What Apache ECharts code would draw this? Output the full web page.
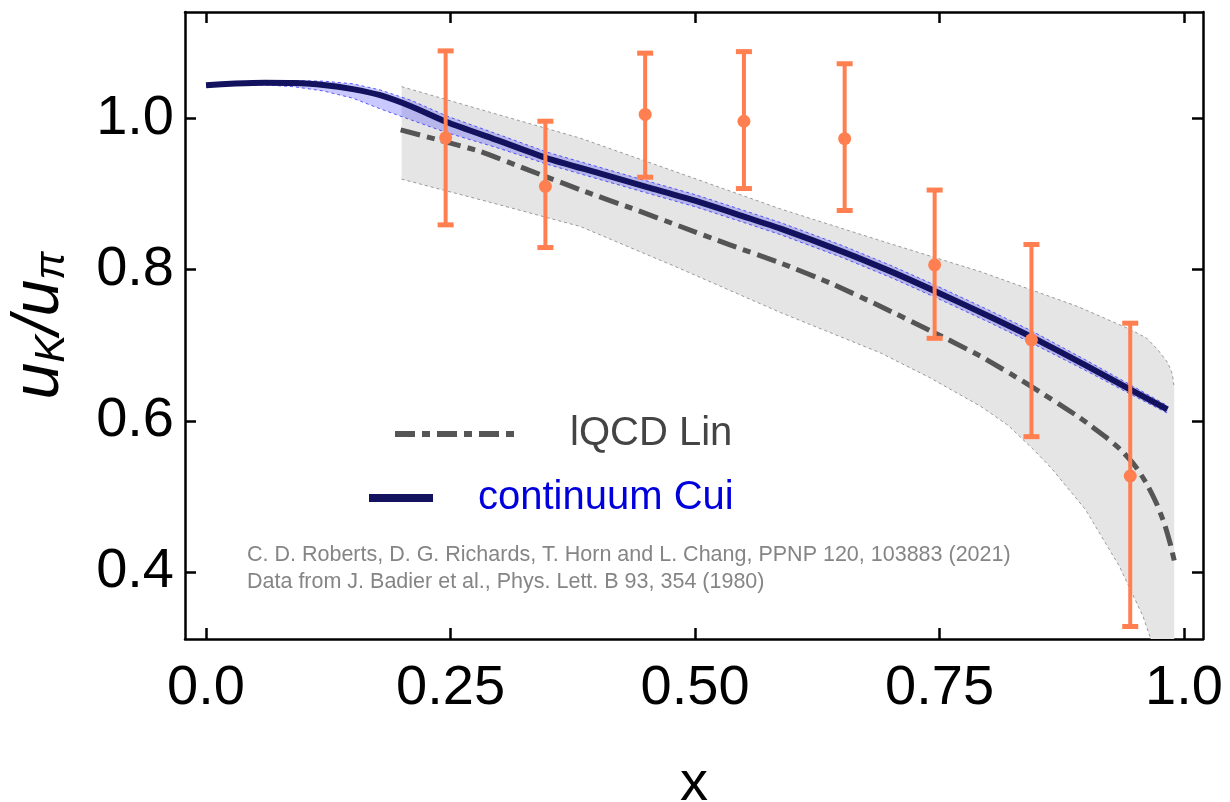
<!DOCTYPE html>
<html>
<head>
<meta charset="utf-8">
<script src="https://cdn.jsdelivr.net/npm/echarts@6/dist/echarts.min.js"></script>
<style>
html,body{margin:0;padding:0;background:#fff;}
#chart{width:1230px;height:802px;}
</style>
</head>
<body>
<div id="chart"></div>
<script>
// ---- Data ----
const xTickValues = [0, 0.25, 0.5, 0.75, 1.0];
const xTickLabels = ['0.0', '0.25', '0.50', '0.75', '1.0'];
const yTickValues = [0.4, 0.6, 0.8, 1.0];
const yTickLabels = ['0.4', '0.6', '0.8', '1.0'];

// continuum Cui: central curve and band
const cuiX     = [0, 0.03, 0.06, 0.09, 0.12, 0.15, 0.178, 0.21, 0.246, 0.30, 0.349, 0.40, 0.451, 0.50, 0.55, 0.5875, 0.65, 0.70, 0.746, 0.80, 0.845, 0.90, 0.95, 0.983];
const cuiY     = [1.0436, 1.0458, 1.0470, 1.0466, 1.0440, 1.0385, 1.0304, 1.0155, 0.995, 0.970, 0.947, 0.928, 0.909, 0.891, 0.870, 0.854, 0.824, 0.7975, 0.771, 0.7386, 0.7103, 0.673, 0.638, 0.615];
const cuiUpper = [1.0446, 1.0468, 1.0490, 1.0496, 1.0490, 1.0455, 1.0374, 1.0235, 1.003, 0.978, 0.955, 0.936, 0.917, 0.899, 0.878, 0.862, 0.832, 0.8055, 0.779, 0.7466, 0.7183, 0.680, 0.644, 0.620];
const cuiLower = [1.0426, 1.0438, 1.0440, 1.0416, 1.0360, 1.0265, 1.0124, 0.9975, 0.981, 0.960, 0.939, 0.920, 0.901, 0.883, 0.862, 0.846, 0.816, 0.7895, 0.763, 0.7306, 0.7023, 0.666, 0.632, 0.610];

// lQCD Lin: central curve
const linX = [0.199, 0.24, 0.2805, 0.33, 0.3828, 0.435, 0.4852, 0.535, 0.5875, 0.64, 0.6899, 0.74, 0.7922, 0.84, 0.8915, 0.905, 0.92, 0.935, 0.95, 0.962, 0.972, 0.980, 0.986, 0.990];
const linY = [0.9845, 0.9705, 0.9559, 0.9314, 0.9053, 0.881, 0.8568, 0.8328, 0.8085, 0.781, 0.7511, 0.7195, 0.6851, 0.6485, 0.6058, 0.5930, 0.5785, 0.562, 0.5403, 0.5163, 0.4903, 0.4635, 0.4371, 0.4151];
// lQCD Lin: band edges
const linUpperX = [0.200, 0.290, 0.3828, 0.485, 0.5875, 0.6899, 0.7922, 0.8915, 0.9458, 0.9620, 0.9731, 0.9833, 0.9880, 0.990];
const linUpperY = [1.0417, 1.008, 0.9736, 0.927, 0.880, 0.838, 0.797, 0.751, 0.7203, 0.709, 0.694, 0.677, 0.662, 0.643];
const linLowerX = [0.200, 0.290, 0.3828, 0.485, 0.5875, 0.6899, 0.740, 0.7922, 0.820, 0.846, 0.8646, 0.8992, 0.9339, 0.958, 0.965, 0.978, 0.990];
const linLowerY = [0.9194, 0.889, 0.8568, 0.801, 0.743, 0.6896, 0.657, 0.619, 0.594, 0.562, 0.537, 0.4826, 0.4076, 0.3416, 0.3152, 0.260, 0.190];

// Data from J. Badier et al.
const expX  = [0.245, 0.347, 0.449, 0.550, 0.653, 0.745, 0.844, 0.945];
const expY  = [0.974, 0.910, 1.005, 0.996, 0.973, 0.806, 0.707, 0.527];
const expLo = [0.859, 0.829, 0.922, 0.907, 0.878, 0.709, 0.579, 0.328];
const expHi = [1.089, 0.996, 1.086, 1.088, 1.072, 0.905, 0.833, 0.729];

// ---- Build ----
const FONT = '"Liberation Sans", Arial, Helvetica, sans-serif';
const X_MIN = -0.0215, X_MAX = 1.0194;
const Y_MIN = 0.3115, Y_MAX = 1.1404;

const pair = (xs, ys) => xs.map((x, i) => [x, ys[i]]);
const lookup = (vals, labels) => (v) => {
  const i = vals.findIndex(t => Math.abs(t - v) < 1e-9);
  return i >= 0 ? labels[i] : '';
};

function bandSeries(name, upX, upY, loX, loY, fill, stroke, z) {
  const upPts = pair(upX, upY);
  const loPts = pair(loX, loY);
  const all = upPts.concat(loPts.slice().reverse());
  return {
    name: name, type: 'custom', z: z, clip: true, silent: true,
    data: all, encode: { x: 0, y: 1 },
    renderItem: (params, api) => {
      if (params.dataIndex !== 0) return null;
      const poly = all.map(p => api.coord(p));
      const up = upPts.map(p => api.coord(p));
      const lo = loPts.map(p => api.coord(p));
      const edge = { stroke: stroke, lineWidth: 1, lineDash: [3, 3], fill: null };
      return {
        type: 'group',
        children: [
          { type: 'polygon', shape: { points: poly }, style: { fill: fill, stroke: null } },
          { type: 'polyline', shape: { points: up }, style: edge },
          { type: 'polyline', shape: { points: lo }, style: edge }
        ]
      };
    }
  };
}

const axisLineStyle = { color: '#000', width: 2.5 };
const tickStyle = { color: '#000', width: 2.5 };

const chart = echarts.init(document.getElementById('chart'), null, { renderer: 'canvas' });

const option = {
  animation: false,
  backgroundColor: '#fff',
  grid: { left: 185, right: 27, top: 12, bottom: 163, containLabel: false, outerBoundsMode: 'none' },
  title: {
    text: 'C. D. Roberts, D. G. Richards, T. Horn and L. Chang, PPNP 120, 103883 (2021)\nData from J. Badier et al., Phys. Lett. B 93, 354 (1980)',
    left: 247, top: 542, padding: 0,
    textStyle: { fontFamily: FONT, fontSize: 21.5, fontWeight: 'normal', color: '#858585', lineHeight: 27 }
  },
  legend: [
    {
      data: ['lQCD Lin'], left: 392, top: 414, padding: 0,
      itemWidth: 125, itemHeight: 14,
      lineStyle: { width: 6 },
      itemStyle: { opacity: 0 },
      textStyle: { fontFamily: FONT, fontSize: 40, color: '#444', padding: [0, 0, 0, 45] },
      selectedMode: false
    },
    {
      data: ['continuum Cui'], left: 365, top: 478, padding: 0,
      itemWidth: 64, itemHeight: 14,
      lineStyle: { width: 8 },
      itemStyle: { opacity: 0 },
      textStyle: { fontFamily: FONT, fontSize: 40, color: '#0000dd', padding: [0, 0, 0, 40] },
      selectedMode: false
    }
  ],
  xAxis: [
    {
      type: 'value', min: X_MIN, max: X_MAX, position: 'bottom',
      axisLine: { show: true, onZero: false, lineStyle: axisLineStyle },
      axisTick: { show: true, inside: true, length: 11, lineStyle: tickStyle, customValues: xTickValues },
      axisLabel: { customValues: xTickValues, formatter: lookup(xTickValues, xTickLabels), fontFamily: FONT, fontSize: 56, color: '#000', margin: 22 },
      splitLine: { show: false },
      name: 'x', nameLocation: 'middle', nameGap: 118,
      nameTextStyle: { fontFamily: FONT, fontSize: 56, color: '#000' }
    },
    {
      type: 'value', min: X_MIN, max: X_MAX, position: 'top',
      axisLine: { show: true, onZero: false, lineStyle: axisLineStyle },
      axisTick: { show: true, inside: true, length: 11, lineStyle: tickStyle, customValues: xTickValues },
      axisLabel: { show: false },
      splitLine: { show: false }
    }
  ],
  yAxis: [
    {
      type: 'value', min: Y_MIN, max: Y_MAX, position: 'left',
      axisLine: { show: true, onZero: false, lineStyle: axisLineStyle },
      axisTick: { show: true, inside: true, length: 11, lineStyle: tickStyle, customValues: yTickValues },
      axisLabel: { customValues: yTickValues, formatter: lookup(yTickValues, yTickLabels), fontFamily: FONT, fontSize: 56, color: '#000', margin: 11 },
      splitLine: { show: false },
      name: '{u|u}{s|K}{u|/u}{s|π}', nameLocation: 'middle', nameGap: 112,
      nameTextStyle: {
        color: '#000',
        rich: {
          u: { fontFamily: FONT, fontStyle: 'italic', fontSize: 66, color: '#000' },
          s: { fontFamily: FONT, fontStyle: 'italic', fontSize: 42, color: '#000', verticalAlign: 'bottom' }
        }
      }
    },
    {
      type: 'value', min: Y_MIN, max: Y_MAX, position: 'right',
      axisLine: { show: true, onZero: false, lineStyle: axisLineStyle },
      axisTick: { show: true, inside: true, length: 11, lineStyle: tickStyle, customValues: yTickValues },
      axisLabel: { show: false },
      splitLine: { show: false }
    }
  ],
  series: [
    bandSeries('lQCD band', linUpperX, linUpperY, linLowerX, linLowerY, '#e5e5e5', '#9a9a9a', 1),
    bandSeries('continuum band', cuiX, cuiUpper, cuiX, cuiLower, 'rgba(60,60,255,0.28)', 'rgba(40,40,255,0.75)', 2),
    {
      name: 'lQCD Lin', type: 'line', data: pair(linX, linY), symbol: 'none', z: 4,
      smooth: 0.2,
      lineStyle: { color: '#555555', width: 5, type: [20, 7, 8, 7] },
      itemStyle: { color: '#555555' }
    },
    {
      name: 'continuum Cui', type: 'line', data: pair(cuiX, cuiY), symbol: 'none', z: 5,
      smooth: 0.2,
      lineStyle: { color: '#12125f', width: 6 },
      itemStyle: { color: '#12125f' }
    },
    {
      name: 'Badier', type: 'custom', z: 6, clip: true,
      data: expX.map((x, i) => [x, expY[i], expLo[i], expHi[i]]),
      encode: { x: 0, y: [1, 2, 3] },
      renderItem: (params, api) => {
        const x = api.value(0);
        const top = api.coord([x, api.value(3)]);
        const bot = api.coord([x, api.value(2)]);
        const hw = 8;
        const st = { stroke: '#ff7f50', lineWidth: 4 };
        const cap = { stroke: '#ff7f50', lineWidth: 5 };
        return {
          type: 'group',
          children: [
            { type: 'line', shape: { x1: top[0], y1: top[1], x2: bot[0], y2: bot[1] }, style: st },
            { type: 'line', shape: { x1: top[0] - hw, y1: top[1], x2: top[0] + hw, y2: top[1] }, style: cap },
            { type: 'line', shape: { x1: bot[0] - hw, y1: bot[1], x2: bot[0] + hw, y2: bot[1] }, style: cap }
          ]
        };
      }
    },
    {
      name: 'BadierPts', type: 'scatter', z: 7,
      data: pair(expX, expY), symbol: 'circle', symbolSize: 13,
      itemStyle: { color: '#ff7f50', opacity: 1 }
    }
  ]
};
chart.setOption(option);
</script>
</body>
</html>
